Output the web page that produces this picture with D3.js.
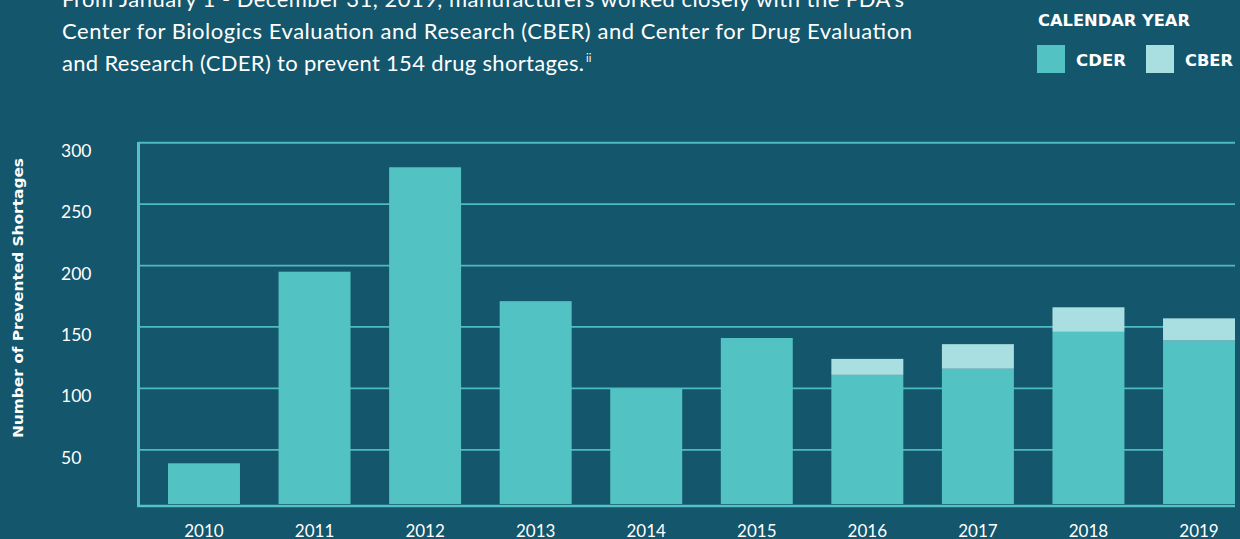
<!DOCTYPE html>
<html>
<head>
<meta charset="utf-8">
<script src="https://cdn.jsdelivr.net/npm/d3@7"></script>
<style>
html,body{margin:0;padding:0;background:#14566c;}
svg{display:block;}
text{font-family:Lato,"Open Sans",sans-serif;fill:#ffffff;}
text.bold{font-family:"DejaVu Sans",Lato,sans-serif;font-weight:700;}
</style>
</head>
<body>
<svg id="chart" width="1240" height="539"></svg>
<script>
const years = ["2010","2011","2012","2013","2014","2015","2016","2017","2018","2019"];
const cder = [39,195,280,171,100,141,111,116,146,139];
const cber = [0,0,0,0,0,0,13,20,20,18];
const yTicks = [50,100,150,200,250,300];
const seriesNames = ["CDER","CBER"];
const seriesColors = ["#53c2c3","#a9dfe0"];
const introLines = [
  "From January 1 - December 31, 2019, manufacturers worked closely with the FDA's",
  "Center for Biologics Evaluation and Research (CBER) and Center for Drug Evaluation",
  "and Research (CDER) to prevent 154 drug shortages."
];
const introWidths = [842, 850, 522];
const legendTitle = "CALENDAR YEAR";
const yTitle = "Number of Prevented Shortages";

const svg = d3.select("#chart");
const plot = {left:138.5, right:1235, top:142.7, baseline:505.5};

const x = d3.scaleBand().domain(years).range([168,1235]).paddingInner(0.349).paddingOuter(0);
const y = d3.scaleLinear().domain([0,300]).range([511.2,142.7]);

const data = years.map((yr,i)=>({year:yr, CDER:cder[i], CBER:cber[i]}));
const stack = d3.stack().keys(seriesNames)(data);

// intro text
introLines.forEach((l,i)=>{
  svg.append("text").attr("x",62).attr("y",7+i*32).attr("font-size",22)
    .attr("textLength",introWidths[i]).attr("lengthAdjust","spacing").text(l);
});
svg.append("text").attr("x",62+introWidths[2]+2).attr("y",62).attr("font-size",11).text("ii");

// legend
svg.append("text").attr("class","bold").attr("x",1038).attr("y",26).attr("font-size",15)
  .attr("textLength",152).attr("lengthAdjust","spacingAndGlyphs").text(legendTitle);
const lg = svg.append("g");
const legendX = [1037,1146];
const legendW = [50,48];
seriesNames.forEach((s,i)=>{
  lg.append("rect").attr("x",legendX[i]).attr("y",45).attr("width",28).attr("height",28).attr("fill",seriesColors[i]);
  lg.append("text").attr("class","bold").attr("x",legendX[i]+39).attr("y",66).attr("font-size",15)
    .attr("textLength",legendW[i]).attr("lengthAdjust","spacingAndGlyphs").text(s);
});

// gridlines
svg.append("g").selectAll("line").data(yTicks).join("line")
  .attr("x1",plot.left).attr("x2",plot.right)
  .attr("y1",d=>y(d)).attr("y2",d=>y(d))
  .attr("stroke","#4cbcc0").attr("stroke-width",d=>d===300?2:1.8);

// tick labels
svg.append("g").selectAll("text").data(yTicks).join("text")
  .attr("x",61).attr("y",d=>y(d)+14).attr("font-size",17.5).text(d=>d);

// bars
const barBottom = plot.baseline - 1.5;
svg.append("g").selectAll("g").data(stack).join("g")
  .attr("fill",(d,i)=>seriesColors[i])
  .selectAll("rect").data(d=>d).join("rect")
  .attr("x",d=>x(d.data.year))
  .attr("width",x.bandwidth())
  .attr("y",d=>y(d[1]))
  .attr("height",d=>Math.max(0, Math.min(barBottom, y(d[0])) - y(d[1])))
  .attr("display",d=>d[1]-d[0]>0?null:"none");

// axes frame
svg.append("line").attr("x1",plot.left).attr("x2",plot.left).attr("y1",plot.top-0.7).attr("y2",plot.baseline+1.5)
  .attr("stroke","#55c3c4").attr("stroke-width",3);
svg.append("line").attr("x1",plot.left-1.5).attr("x2",plot.right).attr("y1",plot.baseline+0.5).attr("y2",plot.baseline+0.5)
  .attr("stroke","#55c3c4").attr("stroke-width",2.5);

// x labels
svg.append("g").selectAll("text").data(years).join("text")
  .attr("x",d=>x(d)+x.bandwidth()/2).attr("y",537).attr("text-anchor","middle")
  .attr("font-size",17).text(d=>d);

// y title
svg.append("text").attr("class","bold").attr("transform","translate(23,298) rotate(-90)").attr("text-anchor","middle")
  .attr("font-size",14)
  .attr("textLength",280).attr("lengthAdjust","spacingAndGlyphs").text(yTitle);
</script>
</body>
</html>
